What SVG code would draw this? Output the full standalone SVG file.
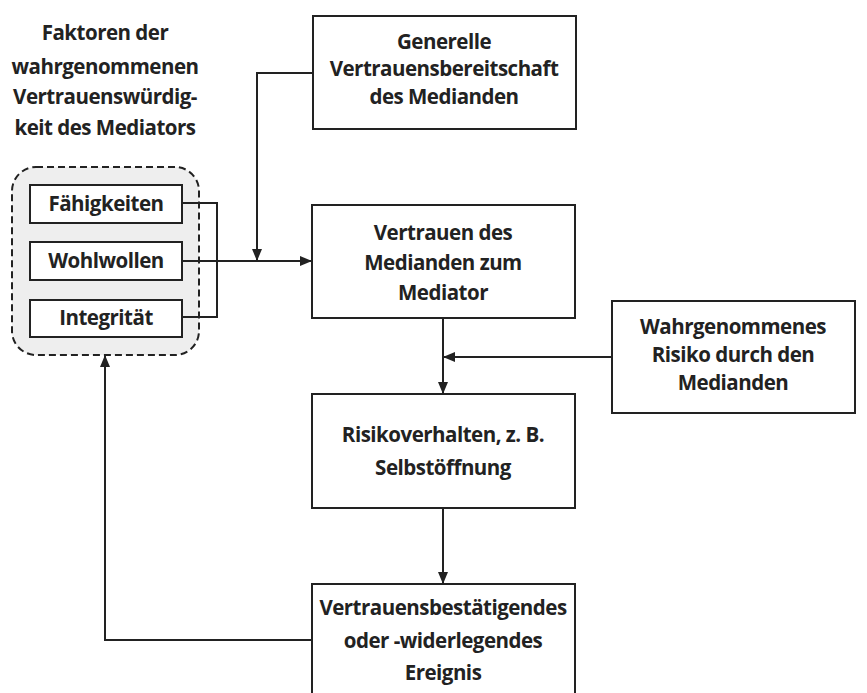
<svg xmlns="http://www.w3.org/2000/svg" width="867" height="693" viewBox="0 0 867 693">
<defs>
<style>
.box{fill:#fff;stroke:#222;stroke-width:2}
.t{font-family:"Open Sans","Liberation Sans",sans-serif;font-weight:700;font-size:20.5px;fill:#222;text-anchor:middle;letter-spacing:-0.5px}
.c{fill:none;stroke:#222;stroke-width:2}
</style>
<marker id="ah" viewBox="0 0 12 10" refX="12" refY="5" markerWidth="12" markerHeight="10" markerUnits="userSpaceOnUse" orient="auto">
<path d="M0,0 L12,5 L0,10 Z" fill="#222"/>
</marker>
</defs>
<rect width="867" height="693" fill="#fff"/>
<g id="header">
<text class="t" x="105" y="40">Faktoren der</text>
<text class="t" x="105" y="74">wahrgenommenen</text>
<text class="t" x="105" y="104">Vertrauenswürdig-</text>
<text class="t" x="105" y="135">keit des Mediators</text>
</g>
<g id="group">
<rect x="12" y="167" width="187" height="188" rx="24" fill="#eeeeee" stroke="#222" stroke-width="2" stroke-dasharray="7,4"/>
</g>
<g id="faehigkeiten">
<rect class="box" x="30" y="185" width="152" height="38"/>
<text class="t" x="106" y="211">Fähigkeiten</text>
</g>
<g id="wohlwollen">
<rect class="box" x="30" y="242" width="152" height="38"/>
<text class="t" x="106" y="268">Wohlwollen</text>
</g>
<g id="integritaet">
<rect class="box" x="30" y="300" width="152" height="37"/>
<text class="t" x="106" y="325">Integrität</text>
</g>
<g id="generelle">
<rect class="box" x="313" y="16" width="263" height="113"/>
<text class="t" x="444" y="49">Generelle</text>
<text class="t" x="444" y="76">Vertrauensbereitschaft</text>
<text class="t" x="444" y="104">des Medianden</text>
</g>
<g id="vertrauen">
<rect class="box" x="312" y="205" width="263" height="113"/>
<text class="t" x="443" y="240">Vertrauen des</text>
<text class="t" x="443" y="270">Medianden zum</text>
<text class="t" x="443" y="300">Mediator</text>
</g>
<g id="risiko">
<rect class="box" x="612" y="301" width="243" height="112"/>
<text class="t" x="733" y="334">Wahrgenommenes</text>
<text class="t" x="733" y="362">Risiko durch den</text>
<text class="t" x="733" y="390">Medianden</text>
</g>
<g id="risikoverhalten">
<rect class="box" x="312" y="394" width="263" height="114"/>
<text class="t" x="443" y="442">Risikoverhalten, z. B.</text>
<text class="t" x="443" y="475">Selbstöffnung</text>
</g>
<g id="ereignis">
<rect class="box" x="312" y="584" width="263" height="120"/>
<text class="t" x="443" y="615">Vertrauensbestätigendes</text>
<text class="t" x="443" y="648">oder -widerlegendes</text>
<text class="t" x="443" y="680">Ereignis</text>
</g>
<g id="connectors">
<path class="c" d="M182,203 H217 V317 H182" stroke-width="1.6"/>
<path class="c" d="M182,261 H312" stroke-width="2.5" marker-end="url(#ah)"/>
<path class="c" d="M313,73 H257 V261" marker-end="url(#ah)"/>
<path class="c" d="M443,318 V394" marker-end="url(#ah)"/>
<path class="c" d="M612,357 H443" marker-end="url(#ah)"/>
<path class="c" d="M443,508 V584" marker-end="url(#ah)"/>
<path class="c" d="M312,640 H105 V355" marker-end="url(#ah)"/>
</g>
</svg>
